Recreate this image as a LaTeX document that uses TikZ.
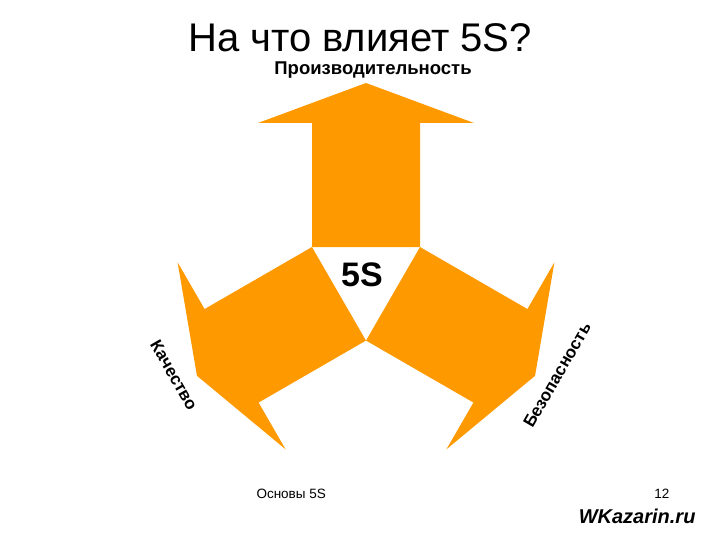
\documentclass[tikz,border=0pt]{standalone}
\usepackage{fontspec}
\setmainfont{Liberation Sans}
\definecolor{arroworange}{RGB}{255,153,0}
\tikzset{
    arrowshape/.style={fill=arroworange},
    sidelabel/.style={font=\bfseries\fontsize{17}{20}\selectfont, inner sep=0pt}
}
\begin{document}
\begin{tikzpicture}[x=1pt,y=-1pt]
    \useasboundingbox (0,0) rectangle (720,540);
    \coordinate (c) at (366,278.2);

    % three arrows around the triangle
    \foreach \a in {0,120,240}
    {
        \fill[arrowshape, rotate around={\a:(c)}] (312,247) -- (312,123) -- (258,123) -- (366,83)
        -- (474,123) -- (420,123) -- (420,247) -- cycle;
    }

    \node[anchor=base, font=\fontsize{40}{48}\selectfont] (title) at (360,52) {На что влияет 5S?};
    \node[anchor=base, font=\bfseries\fontsize{18.5}{22}\selectfont] (prod) at (373,75) {Производительность};
    \node[font=\bfseries\fontsize{34}{40}\selectfont] (fives) at (362,275) {5S};
    \node[sidelabel, rotate=-60] (quality) at (174,375) {Качество};
    \node[sidelabel, rotate=60] (safety) at (557,375) {Безопасность};

    \node[anchor=base west, font=\fontsize{13.5}{16}\selectfont] (footer) at (253,498) {Основы 5S};
    \node[anchor=base east, font=\fontsize{13.5}{16}\selectfont] (page) at (673,498) {12};
    \node[anchor=base east, font=\bfseries\itshape\fontsize{20}{24}\selectfont] (site) at (699,523) {WKazarin.ru};
\end{tikzpicture}
\end{document}
